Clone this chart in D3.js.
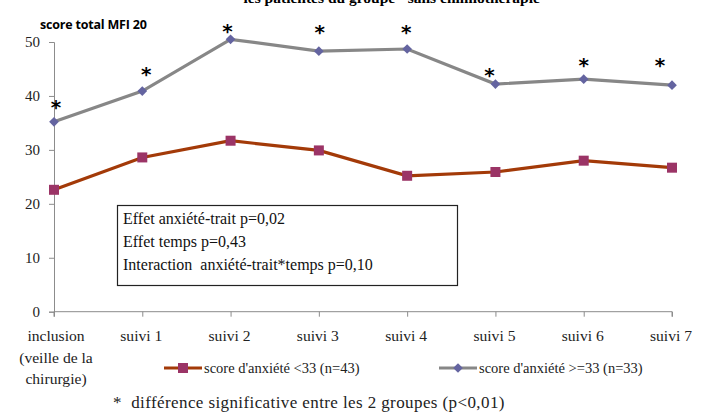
<!DOCTYPE html>
<html><head><meta charset="utf-8">
<script src="https://cdn.jsdelivr.net/npm/d3@7/dist/d3.min.js"></script>
<style>body{margin:0;background:#fff}svg{display:block}</style>
</head><body><div id="chart"></div>
<script>
const categories = ["inclusion", "suivi 1", "suivi 2", "suivi 3", "suivi 4", "suivi 5", "suivi 6", "suivi 7"];
const categoryLabels = [["inclusion", "(veille de la", "chirurgie)"], ["suivi 1"], ["suivi 2"], ["suivi 3"], ["suivi 4"], ["suivi 5"], ["suivi 6"], ["suivi 7"]];
const lowAnxiety = [22.6, 28.6, 31.7, 29.9, 25.2, 25.9, 28.0, 26.7];
const highAnxiety = [35.2, 40.9, 50.5, 48.3, 48.7, 42.2, 43.1, 42.0];
const asteriskY = [38.5, 44.6, 52.6, 52.5, 52.5, 44.5, 46.3, 46.3];
const yTicks = [0, 10, 20, 30, 40, 50];
const seriesNames = ["score d'anxiété <33 (n=43)", "score d'anxiété >=33 (n=33)"];
const statLines = ["Effet anxiété-trait p=0,02", "Effet temps p=0,43", "Interaction  anxiété-trait*temps p=0,10"];
const titleText = "les patientes du groupe \"sans chimiothérapie\"";
const yTitle = "score total MFI 20";
const footnote = "*  différence significative entre les 2 groupes (p<0,01)";

const W = 709, H = 420;
const svg = d3.select("#chart").append("svg").attr("width", W).attr("height", H);
const serif = "'Liberation Serif', 'DejaVu Serif', serif";
const sans = "'Open Sans', 'Liberation Sans', sans-serif";

const x = d3.scalePoint().domain(categories).range([54, 672]);
const y = d3.scaleLinear().domain([0, 50]).range([311.7, 42]);
const axisColor = "#8c8c8c";

// title (cut at top, as in the reference)
svg.append("text").attr("x", 396).attr("y", 3).attr("text-anchor", "middle")
  .attr("font-family", serif).attr("font-weight", "bold").attr("font-size", 15.5).text(titleText);

svg.append("text").attr("x", 40).attr("y", 29).attr("font-family", sans)
  .attr("font-weight", "bold").attr("font-size", 12.5).attr("letter-spacing", -0.2).text(yTitle);

// y axis
const yAxis = svg.append("g").attr("transform", `translate(${x(categories[0])},0)`)
  .call(d3.axisLeft(y).tickValues(yTicks).tickSize(5).tickPadding(9));
yAxis.select(".domain").attr("stroke", axisColor);
yAxis.selectAll(".tick line").attr("stroke", axisColor);
yAxis.selectAll(".tick text").attr("font-family", serif).attr("font-size", 15).attr("fill", "#222");

// x axis
const xAxis = svg.append("g").attr("transform", `translate(0,${y(0)})`)
  .call(d3.axisBottom(x).tickSize(5).tickFormat(""));
xAxis.select(".domain").attr("stroke", axisColor).attr("d", `M${x(categories[0])},5V0H${x(categories[7])}V5`);
xAxis.selectAll(".tick line").attr("stroke", axisColor);

categories.forEach((c, i) => {
  const t = svg.append("text").attr("text-anchor", "middle").attr("font-family", serif)
    .attr("font-size", 15.6).attr("fill", "#222");
  categoryLabels[i].forEach((ln, j) => {
    t.append("tspan").attr("x", x(c) + (i === 0 ? 2 : -1)).attr("y", 341 + j * 21.5).text(ln);
  });
});

// stats box
svg.append("rect").attr("x", 117.5).attr("y", 205.5).attr("width", 340).attr("height", 80)
  .attr("fill", "#fff").attr("stroke", "#222").attr("stroke-width", 1.2);
statLines.forEach((s, i) => {
  svg.append("text").attr("x", 123).attr("y", 224 + i * 23).attr("font-family", serif)
    .attr("font-size", 16).attr("fill", "#111").style("white-space", "pre").text(s);
});

const redLine = "#a33a08", redMark = "#9b3466", grayLine = "#878787", blueMark = "#6464a0";
const line = d3.line().x((d, i) => x(categories[i])).y(d => y(d));

svg.append("path").datum(lowAnxiety).attr("d", line).attr("fill", "none")
  .attr("stroke", redLine).attr("stroke-width", 3.2);
svg.append("path").datum(highAnxiety).attr("d", line).attr("fill", "none")
  .attr("stroke", grayLine).attr("stroke-width", 3.2);

svg.selectAll(".sq").data(lowAnxiety).enter().append("rect")
  .attr("x", (d, i) => x(categories[i]) - 5).attr("y", d => y(d) - 5)
  .attr("width", 10).attr("height", 10).attr("fill", redMark);
const diamond = d3.symbol().type(d3.symbolDiamond2).size(60);
svg.selectAll(".dm").data(highAnxiety).enter().append("path")
  .attr("d", diamond).attr("transform", (d, i) => `translate(${x(categories[i])},${y(d)})`)
  .attr("fill", blueMark);

// asterisks
svg.selectAll(".ast").data(asteriskY).enter().append("text")
  .attr("x", (d, i) => x(categories[i]) + [2, 4, -3, 1, -1, -6, 0, -12][i])
  .attr("y", d => y(d) + 10).attr("text-anchor", "middle")
  .attr("font-family", "'DejaVu Sans', sans-serif").attr("font-weight", "bold").attr("font-size", 20).text("*");

// legend
const lg = [{ x0: 164, col: redLine, mark: "sq", name: seriesNames[0] }, { x0: 439, col: grayLine, mark: "dm", name: seriesNames[1] }];
lg.forEach(l => {
  const g = svg.append("g");
  g.append("line").attr("x1", l.x0).attr("x2", l.x0 + 38).attr("y1", 368).attr("y2", 368)
    .attr("stroke", l.col).attr("stroke-width", 3.2);
  if (l.mark === "sq") g.append("rect").attr("x", l.x0 + 14).attr("y", 363).attr("width", 10).attr("height", 10).attr("fill", redMark);
  else g.append("path").attr("d", diamond).attr("transform", `translate(${l.x0 + 19},368)`).attr("fill", blueMark);
  g.append("text").attr("x", l.x0 + 40).attr("y", 373).attr("font-family", serif)
    .attr("font-size", 14.5).attr("fill", "#222").text(l.name);
});

svg.append("text").attr("x", 113).attr("y", 408).attr("font-family", serif)
  .attr("font-size", 17).attr("letter-spacing", 0.4).attr("fill", "#222").style("white-space", "pre").text(footnote);
</script></body></html>
